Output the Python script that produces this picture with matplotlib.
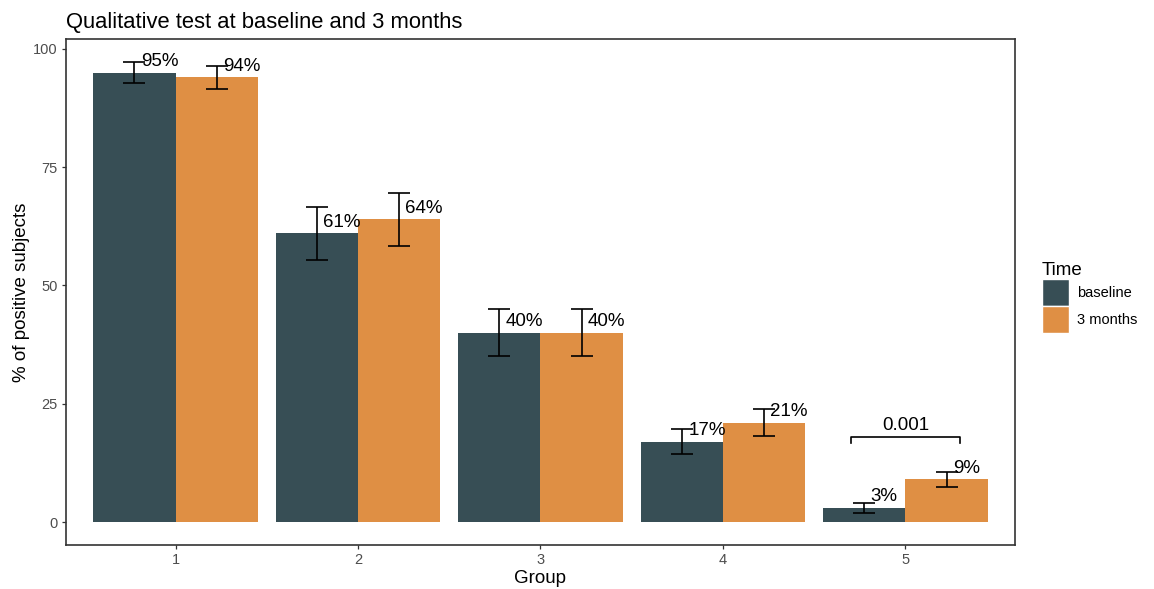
import numpy as np
import matplotlib
matplotlib.use("Agg")
import matplotlib.pyplot as plt
from matplotlib.patches import Patch

plt.rcParams['font.family'] = ['Liberation Sans', 'DejaVu Sans']

groups = ['1', '2', '3', '4', '5']
times = ['baseline', '3 months']
baseline = [95, 61, 40, 17, 3]
months3 = [94, 64, 40, 21, 9]
baseline_err = [2.2, 5.6, 5.0, 2.6, 1.0]
months3_err = [2.4, 5.6, 5.0, 2.9, 1.6]
colors = ['#374E55', '#DF8F44']
p_label = '0.001'

fig = plt.figure(figsize=(11.54, 5.89), dpi=100)
ax = fig.add_axes([0.0572, 0.0747, 0.8223, 0.8591])

x = np.arange(1, len(groups) + 1)
w = 0.45
series = [(baseline, baseline_err), (months3, months3_err)]
for i, (vals, errs) in enumerate(series):
    xs = x + (i - 0.5) * w
    ax.bar(xs, vals, width=w, color=colors[i], zorder=2)
    ax.errorbar(xs, vals, yerr=errs, fmt='none', ecolor='black',
                elinewidth=1.2, capsize=8, capthick=1.2, zorder=3)
    for xi, v in zip(xs, vals):
        ax.text(xi + 0.035, v + 0.5, f'{v}%', ha='left', va='bottom',
                fontsize=13.5, color='black', zorder=4)

# significance bracket for group 5
bx0, bx1, by = 4.7, 5.3, 18
ax.plot([bx0, bx0, bx1, bx1], [by - 1.4, by, by, by - 1.4], color='black', lw=1.2)
ax.text(5.0, by + 0.7, p_label, ha='center', va='bottom', fontsize=13.5)

ax.set_xlim(0.4, 5.6)
ax.set_ylim(-4.86, 102.1)
ax.set_xticks(x)
ax.set_xticklabels(groups)
ax.set_yticks([0, 25, 50, 75, 100])
ax.tick_params(axis='both', colors='#333333', labelcolor='#4D4D4D',
               labelsize=10.5, length=3, width=0.9, pad=3)
for s in ax.spines.values():
    s.set_color('#333333')
    s.set_linewidth(1.2)

ax.set_xlabel('Group', fontsize=13.5, labelpad=2)
ax.set_ylabel('% of positive subjects', fontsize=13.5, labelpad=2)
ax.set_title('Qualitative test at baseline and 3 months', loc='left',
             fontsize=15.8, pad=8)

handles = [Patch(facecolor=c, edgecolor='white', label=t) for c, t in zip(colors, times)]
ax.legend(handles=handles, title='Time', loc='center left', bbox_to_anchor=(1.022, 0.49),
          frameon=False, fontsize=10.5, title_fontsize=13.5, handlelength=1.85,
          handleheight=2.4, labelspacing=0.05, handletextpad=0.6, alignment='left',
          borderaxespad=0)

fig.savefig('out.png', dpi=100)
